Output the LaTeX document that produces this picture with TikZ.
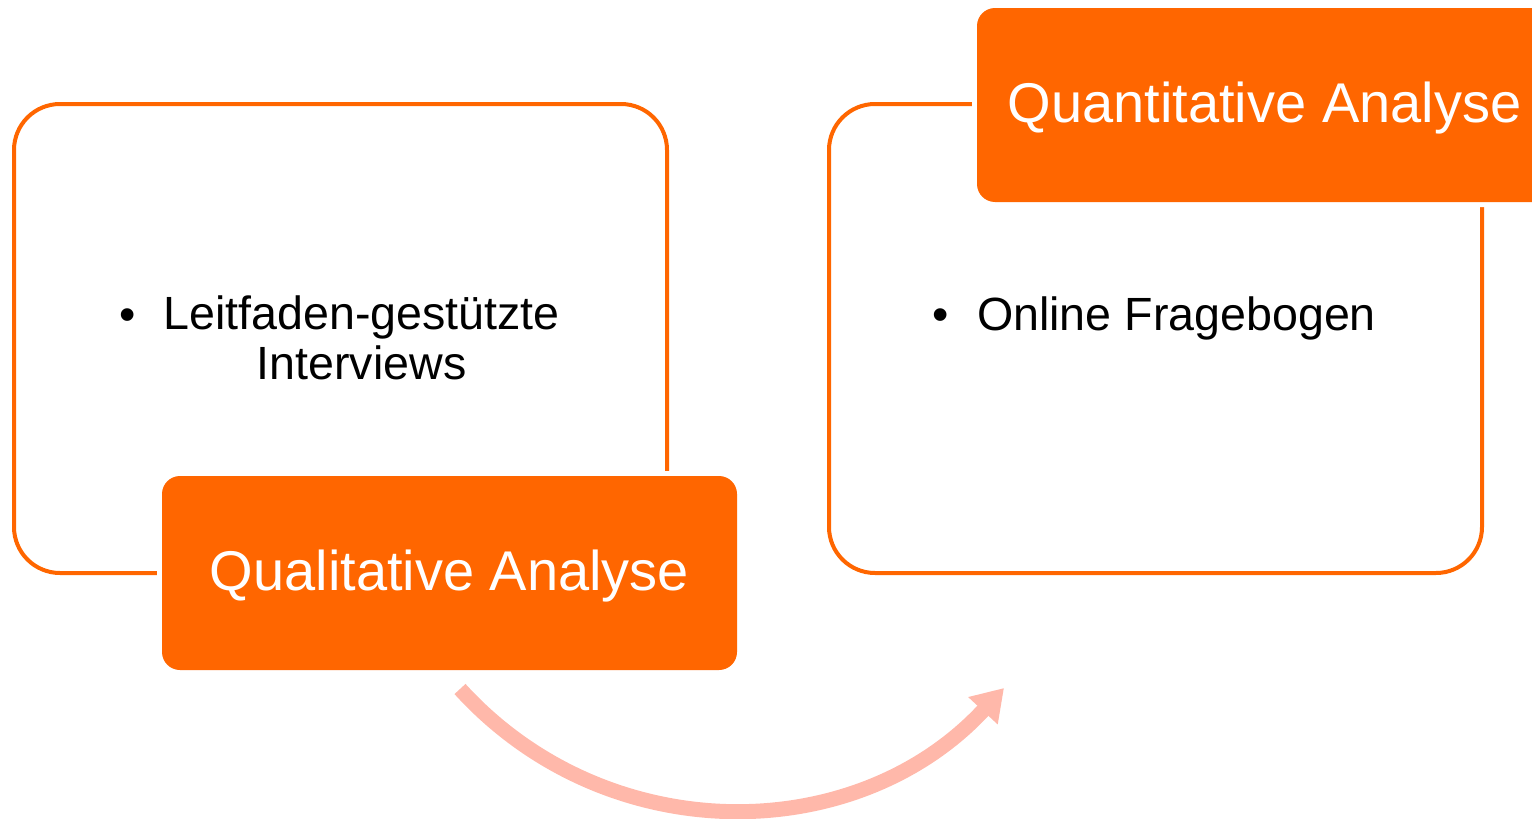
\documentclass[tikz,border=0pt]{standalone}
\usepackage{fontspec}
\setmainfont{Liberation Sans}
\usepackage{xcolor}
\usetikzlibrary{arrows.meta}
\definecolor{orangeA}{HTML}{FF6600}
\definecolor{roseA}{HTML}{FFB8AA}
\def\breite{1532}
\def\hoehe{819}

\begin{document}
\begin{tikzpicture}[x=0.5pt, y=-0.5pt,
	rahmen/.style={draw=orangeA, line width=2pt, rounded corners=23pt, minimum width=326.5pt, minimum height=234.5pt},
	titel/.style={fill=orangeA, text=white, rounded corners=9pt, minimum width=287.5pt, minimum height=97pt, text depth=3pt, font=\fontsize{28}{34}\selectfont, preaction={draw=white, line width=5pt}},
	punkt/.style={font=\fontsize{23.3}{25}\selectfont, inner sep=0pt},
	pfeil/.style={draw=roseA, line width=7.5pt, -{Triangle[length=15.5pt, width=19pt]}}]
	\useasboundingbox (0,0) rectangle (\breite,\hoehe);
	%\draw[step=100, line width=0.1mm, black!20!white] (0,0) grid (\breite,\hoehe);
	% die beiden Rahmen
	\node[rahmen] (qualrahmen) at (340.5,338.5) {};
	\node[rahmen] (quantrahmen) at (1155.5,338.5) {};
	% Titelkaesten
	\node[titel] (qualtitel) at (449.5,573) {Qualitative Analyse};
	\node[titel] (quanttitel) at (1264.5,105) {Quantitative Analyse};
	% Aufzaehlungen
	\node[punkt, anchor=base] (p1) at (128,330) {\textbullet};
	\node[punkt, align=center] (leitfaden) at (361.5,338) {Leitfaden-gestützte\\Interviews};
	\node[punkt, anchor=base] (p2) at (941,330) {\textbullet};
	\node[punkt, anchor=base] (online) at (1176.5,330) {Online Fragebogen};
	% Pfeil
	\coordinate (ziel) at (1004,688);
	\draw[pfeil] ([shift={(10.5,18.6)}]qualtitel.south) .. controls +(146.6,161.2) and +(-148.1,159.9) .. (ziel);
\end{tikzpicture}
\end{document}
